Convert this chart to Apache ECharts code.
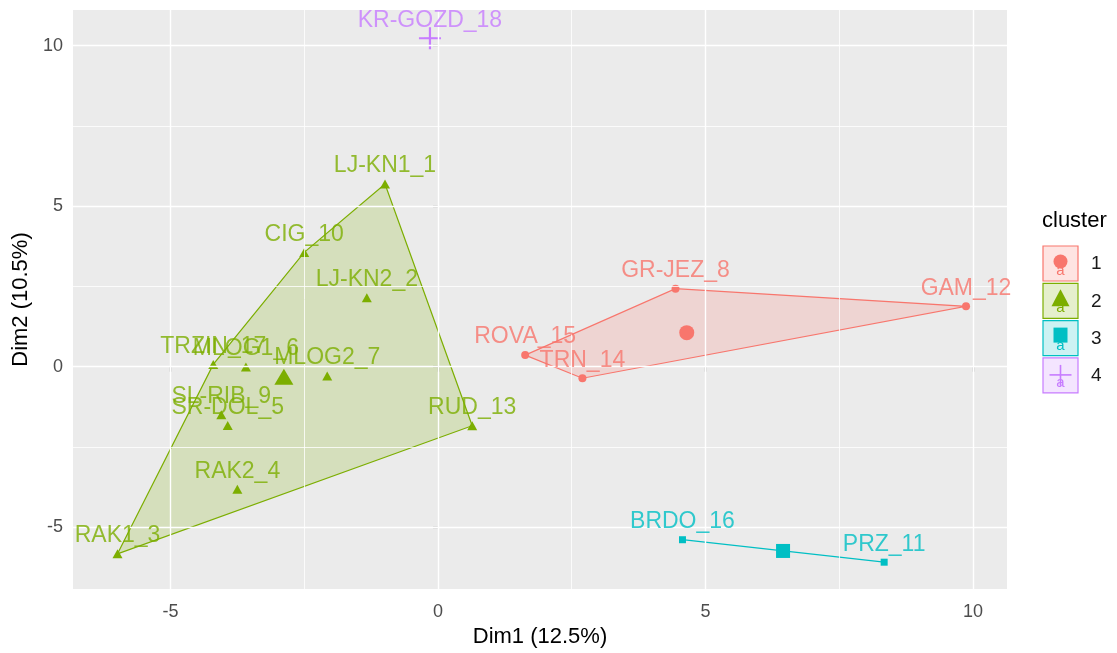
<!DOCTYPE html>
<html>
<head>
<meta charset="utf-8">
<script src="https://cdn.jsdelivr.net/npm/echarts@6/dist/echarts.min.js"></script>
<style>
  html, body { margin: 0; padding: 0; background: #ffffff; }
  #chart { width: 1117px; height: 653px; }
</style>
</head>
<body>
<div id="chart"></div>
<script>
// Sample scores on the first two principal dimensions, with k-means cluster ids
const sampleNames = ['LJ-KN1_1', 'LJ-KN2_2', 'RAK1_3', 'RAK2_4', 'SR-DOL_5', 'MLOG1_6', 'MLOG2_7',
  'GR-JEZ_8', 'SL-RIB_9', 'CIG_10', 'PRZ_11', 'GAM_12', 'RUD_13', 'TRN_14', 'ROVA_15',
  'BRDO_16', 'TRZIN_17', 'KR-GOZD_18'];
const dim1 = [-0.99, -1.33, -5.99, -3.75, -3.93, -3.59, -2.07, 4.44, -4.05, -2.50, 8.34, 9.87,
  0.64, 2.70, 1.63, 4.57, -4.20, -0.15];
const dim2 = [5.69, 2.15, -5.83, -3.82, -1.83, -0.01, -0.29, 2.43, -1.50, 3.56, -6.09, 1.88,
  -1.84, -0.36, 0.36, -5.39, 0.07, 10.23];
const clusterOf = [2, 2, 2, 2, 2, 2, 2, 1, 2, 2, 3, 1, 2, 1, 1, 3, 2, 4];

// Cluster centres
const clusterIds = ['1', '2', '3', '4'];
const centerDim1 = [4.65, -2.88, 6.45, -0.15];
const centerDim2 = [1.06, -0.31, -5.74, 10.23];

// Axis ticks
const xTicks = [-5, 0, 5, 10];
const yTicks = [-5, 0, 5, 10];
const xMinorLines = [-2.5, 2.5, 7.5];
const yMinorLines = [-2.5, 2.5, 7.5];

const palette = ['#F8766D', '#7CAE00', '#00BFC4', '#C77CFF'];
const fillPalette = ['rgba(248,118,109,0.2)', 'rgba(124,174,0,0.2)', 'rgba(0,191,196,0.2)', 'rgba(199,124,255,0.2)'];
const plusPath = 'path://M0.45,0 L0.55,0 L0.55,0.45 L1,0.45 L1,0.55 L0.55,0.55 L0.55,1 L0.45,1 L0.45,0.55 L0,0.55 L0,0.45 L0.45,0.45 Z';
const pointSymbols = ['circle', 'triangle', 'rect', plusPath];
const pointSizes = [8, [10, 9], 7, 12];
const centerSizes = [15, [19, 16], 14, 22];
const FONT = 'Liberation Sans, Arial, sans-serif';

function membersOf(c) {
  const out = [];
  for (let i = 0; i < sampleNames.length; i++) {
    if (clusterOf[i] === c) out.push(i);
  }
  return out;
}

// Monotone-chain convex hull on screen coordinates
function convexHull(pts) {
  const p = pts.slice().sort((a, b) => a[0] - b[0] || a[1] - b[1]);
  if (p.length < 3) return p;
  const cross = (o, a, b) => (a[0] - o[0]) * (b[1] - o[1]) - (a[1] - o[1]) * (b[0] - o[0]);
  const lower = [];
  for (const q of p) {
    while (lower.length >= 2 && cross(lower[lower.length - 2], lower[lower.length - 1], q) <= 0) lower.pop();
    lower.push(q);
  }
  const upper = [];
  for (let i = p.length - 1; i >= 0; i--) {
    const q = p[i];
    while (upper.length >= 2 && cross(upper[upper.length - 2], upper[upper.length - 1], q) <= 0) upper.pop();
    upper.push(q);
  }
  upper.pop(); lower.pop();
  return lower.concat(upper);
}

const series = [];

// Panel grid lines
const gridLineData = [];
xTicks.forEach(v => gridLineData.push({ xAxis: v, lineStyle: { width: 1.4 } }));
yTicks.forEach(v => gridLineData.push({ yAxis: v, lineStyle: { width: 1.4 } }));
xMinorLines.forEach(v => gridLineData.push({ xAxis: v, lineStyle: { width: 0.8 } }));
yMinorLines.forEach(v => gridLineData.push({ yAxis: v, lineStyle: { width: 0.8 } }));
series.push({
  type: 'scatter', data: [], z: 1, silent: true,
  markLine: {
    silent: true, symbol: 'none', label: { show: false },
    lineStyle: { color: '#ffffff', type: 'solid' },
    data: gridLineData
  }
});

// Cluster outlines
for (let c = 1; c <= 4; c++) {
  const idx = membersOf(c);
  series.push({
    type: 'custom', z: 2, silent: true,
    data: [[centerDim1[c - 1], centerDim2[c - 1]]],
    renderItem: function (params, api) {
      const pts = idx.map(i => api.coord([dim1[i], dim2[i]]));
      const hull = convexHull(pts);
      if (hull.length < 2) return null;
      if (hull.length === 2) {
        return {
          type: 'polyline',
          shape: { points: hull },
          style: { stroke: palette[c - 1], lineWidth: 1.2, fill: null }
        };
      }
      return {
        type: 'polygon',
        shape: { points: hull },
        style: { fill: fillPalette[c - 1], stroke: palette[c - 1], lineWidth: 1.2 }
      };
    }
  });
}

// Sample points
for (let c = 1; c <= 4; c++) {
  const idx = membersOf(c);
  series.push({
    type: 'scatter', z: 3, silent: true,
    symbol: pointSymbols[c - 1], symbolSize: pointSizes[c - 1],
    itemStyle: { color: palette[c - 1], opacity: 1 },
    data: idx.map(i => [dim1[i], dim2[i]])
  });
}

// Cluster centres
for (let c = 1; c <= 4; c++) {
  series.push({
    type: 'scatter', z: 4, silent: true,
    symbol: pointSymbols[c - 1], symbolSize: centerSizes[c - 1],
    itemStyle: { color: palette[c - 1], opacity: 1 },
    data: [[centerDim1[c - 1], centerDim2[c - 1]]]
  });
}

// Sample labels
for (let c = 1; c <= 4; c++) {
  const idx = membersOf(c);
  series.push({
    type: 'scatter', z: 5, silent: true,
    symbolSize: 1,
    itemStyle: { color: 'transparent' },
    label: {
      show: true, position: 'top', distance: 6,
      color: palette[c - 1], fontSize: 23, fontFamily: FONT,
      formatter: p => p.data.name
    },
    data: idx.map(i => ({ name: sampleNames[i], value: [dim1[i], dim2[i]] }))
  });
}

// Legend drawn as keys beside the panel
const legendGraphics = [];
legendGraphics.push({
  type: 'text', left: 1042, top: 210, z: 50,
  style: { text: 'cluster', fill: '#000000', font: '22px ' + FONT }
});
clusterIds.forEach((id, k) => {
  const y0 = 246 + k * 37.3;
  const cx = 1060.5;
  const col = palette[k];
  legendGraphics.push({
    type: 'rect', z: 50,
    shape: { x: 1043, y: y0, width: 35, height: 35 },
    style: { fill: fillPalette[k], stroke: col, lineWidth: 1.2 }
  });
  legendGraphics.push({
    type: 'text', z: 51,
    x: cx, y: y0 + 25,
    style: { text: 'a', fill: col, font: '15px ' + FONT, align: 'center', verticalAlign: 'middle' }
  });
  let glyph;
  if (k === 0) {
    glyph = { type: 'circle', shape: { cx: cx, cy: y0 + 15.5, r: 7 }, style: { fill: col } };
  } else if (k === 1) {
    glyph = { type: 'polygon', shape: { points: [[cx, y0 + 6], [cx + 9, y0 + 23], [cx - 9, y0 + 23]] }, style: { fill: col } };
  } else if (k === 2) {
    glyph = { type: 'rect', shape: { x: cx - 7, y: y0 + 7, width: 14, height: 15 }, style: { fill: col } };
  } else {
    glyph = {
      type: 'group', children: [
        { type: 'line', shape: { x1: cx - 11, y1: y0 + 17, x2: cx + 11, y2: y0 + 17 }, style: { stroke: col, lineWidth: 1.6 } },
        { type: 'line', shape: { x1: cx, y1: y0 + 7, x2: cx, y2: y0 + 28 }, style: { stroke: col, lineWidth: 1.6 } }
      ]
    };
  }
  glyph.z = 52;
  legendGraphics.push(glyph);
  legendGraphics.push({
    type: 'text', z: 50,
    x: 1091, y: y0 + 18,
    style: { text: id, fill: '#1A1A1A', font: '19px ' + FONT, verticalAlign: 'middle' }
  });
});
// Panel edge above the plotting region
legendGraphics.push({
  type: 'rect', z: 100, shape: { x: 0, y: 0, width: 1117, height: 10 }, style: { fill: '#ffffff' }
});

const chart = echarts.init(document.getElementById('chart'), null, { renderer: 'canvas' });
chart.setOption({
  animation: false,
  backgroundColor: '#ffffff',
  textStyle: { fontFamily: FONT },
  grid: {
    left: 73, right: 110, top: 10, bottom: 64,
    show: true, backgroundColor: '#EBEBEB', borderWidth: 0
  },
  xAxis: {
    type: 'value', min: -6.822, max: 10.636,
    name: 'Dim1 (12.5%)', nameLocation: 'middle', nameGap: 37,
    nameTextStyle: { fontSize: 22, color: '#000000', fontFamily: FONT },
    axisLine: { show: false },
    axisTick: { show: true, customValues: xTicks, length: 5, lineStyle: { color: '#333333', width: 1.2 } },
    axisLabel: { customValues: xTicks, color: '#4D4D4D', fontSize: 18, margin: 14, fontFamily: FONT },
    splitLine: { show: false }
  },
  yAxis: {
    type: 'value', min: -6.925, max: 11.11,
    name: 'Dim2 (10.5%)', nameLocation: 'middle', nameGap: 37,
    nameTextStyle: { fontSize: 22, color: '#000000', fontFamily: FONT },
    axisLine: { show: false },
    axisTick: { show: true, customValues: yTicks, length: 5, lineStyle: { color: '#333333', width: 1.2 } },
    axisLabel: { customValues: yTicks, color: '#4D4D4D', fontSize: 18, margin: 10, fontFamily: FONT },
    splitLine: { show: false }
  },
  graphic: legendGraphics,
  series: series
});
</script>
</body>
</html>
